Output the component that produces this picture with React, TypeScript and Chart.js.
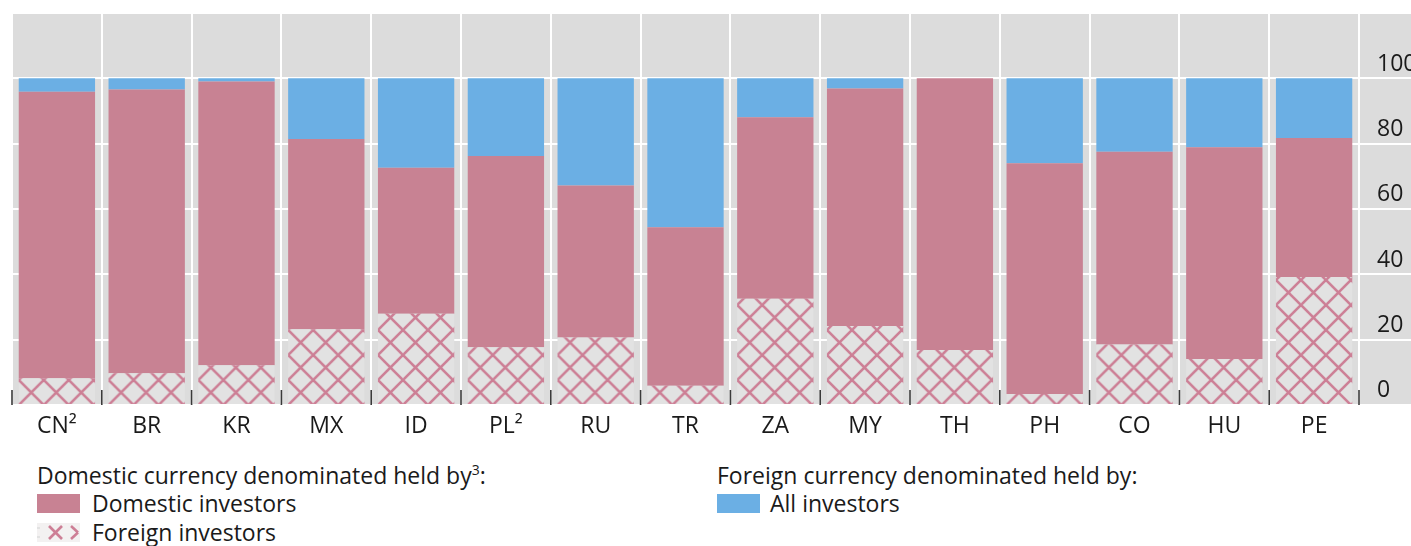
import React, { useEffect, useRef } from "react";
import { Chart, registerables } from "chart.js";

Chart.register(...registerables);

const categories = ["CN²", "BR", "KR", "MX", "ID", "PL²", "RU", "TR", "ZA", "MY", "TH", "PH", "CO", "HU", "PE"];
const foreignInvestors = [8.2, 9.7, 12.2, 23.2, 27.9, 17.7, 20.7, 5.9, 32.5, 24.2, 16.8, 3.4, 18.5, 14.1, 39.2];
const domesticInvestors = [87.7, 86.9, 86.8, 58.2, 44.7, 58.5, 46.5, 48.5, 55.6, 72.7, 83.2, 70.6, 59.0, 64.8, 42.5];
const foreignCurrencyAll = [4.1, 3.4, 1.0, 18.6, 27.4, 23.8, 32.8, 45.6, 11.9, 3.1, 0, 26.0, 22.5, 21.1, 18.3];
const yTicks = [0, 20, 40, 60, 80, 100, 120];

const PINK = "#C88293";
const HATCH = "#CD7F96";
const BLUE = "#6BAFE4";
const BG = "#DCDCDC";
const HATCH_BG = "#E2E2E2";
const FONT = "'Open Sans', 'Noto Sans', sans-serif";
const BAR_PCT = 0.85;

function makeTile(): HTMLCanvasElement {
  const s = 25;
  const c = document.createElement("canvas");
  c.width = s;
  c.height = s;
  const g = c.getContext("2d")!;
  g.fillStyle = HATCH_BG;
  g.fillRect(0, 0, s, s);
  g.strokeStyle = HATCH;
  g.lineWidth = 2.6;
  for (const o of [-s, 0, s]) {
    g.beginPath();
    g.moveTo(o, 0);
    g.lineTo(o + s, s);
    g.stroke();
    g.beginPath();
    g.moveTo(o + s, 0);
    g.lineTo(o, s);
    g.stroke();
  }
  return c;
}

const bgPlugin = {
  id: "bgPlugin",
  beforeDraw(chart: any) {
    const { ctx, chartArea: a, width } = chart;
    ctx.save();
    ctx.fillStyle = BG;
    ctx.fillRect(a.left, a.top, width - a.left, a.bottom - a.top);
    const ys = chart.scales.y;
    ctx.strokeStyle = "#ffffff";
    ctx.lineWidth = 2;
    ys.ticks.forEach((t: any) => {
      const y = Math.round(ys.getPixelForValue(t.value));
      ctx.beginPath();
      ctx.moveTo(a.right, y);
      ctx.lineTo(width, y);
      ctx.stroke();
    });
    ctx.restore();
  },
  afterDatasetsDraw(chart: any) {
    const { ctx, chartArea: a } = chart;
    const xs = chart.scales.x;
    const n = categories.length;
    const step = xs.width / n;
    ctx.save();
    ctx.strokeStyle = "#3a3a3a";
    ctx.lineWidth = 1.6;
    for (let i = 0; i <= n; i++) {
      const x = i < n ? xs.getPixelForValue(i) - step / 2 : xs.getPixelForValue(n - 1) + step / 2;
      ctx.beginPath();
      ctx.moveTo(x, a.bottom - 15);
      ctx.lineTo(x, a.bottom);
      ctx.stroke();
    }
    ctx.restore();
  },
};

export default function App() {
  const ref = useRef<HTMLCanvasElement>(null);

  useEffect(() => {
    document.body.style.margin = "0";
    const canvas = ref.current!;
    const ctx = canvas.getContext("2d")!;
    const tile = makeTile();

    const hatchColor = (c: any) => {
      const chart = c.chart;
      const xs = chart.scales && chart.scales.x;
      const pattern = ctx.createPattern(tile, "repeat")!;
      if (xs && chart.chartArea && typeof c.dataIndex === "number") {
        const step = xs.width / categories.length;
        const left = xs.getPixelForValue(c.dataIndex) - (step * BAR_PCT) / 2;
        pattern.setTransform(new DOMMatrix().translate(left, chart.chartArea.bottom));
      }
      return pattern;
    };

    const chart = new Chart(canvas, {
      type: "bar",
      data: {
        labels: categories,
        datasets: [
          { label: "Foreign investors", data: foreignInvestors, backgroundColor: hatchColor as any, borderWidth: 0 },
          { label: "Domestic investors", data: domesticInvestors, backgroundColor: PINK, borderWidth: 0 },
          { label: "All investors", data: foreignCurrencyAll, backgroundColor: BLUE, borderWidth: 0 },
        ],
      },
      options: {
        responsive: false,
        animation: false,
        devicePixelRatio: 1,
        layout: { padding: { left: 12, top: 13, right: 0, bottom: 0 } },
        datasets: { bar: { barPercentage: BAR_PCT, categoryPercentage: 1 } },
        plugins: { legend: { display: false }, tooltip: { enabled: false } },
        scales: {
          x: {
            stacked: true,
            offset: true,
            grid: { display: true, offset: true, color: "#ffffff", lineWidth: 2, drawTicks: false },
            border: { display: false },
            ticks: {
              color: "#1a1a1a",
              font: { family: FONT, size: 23 },
              padding: 8,
              maxRotation: 0,
              autoSkip: false,
            },
            afterFit: (s: any) => {
              s.height = 47;
              s.paddingLeft = 0;
              s.paddingRight = 0;
            },
          },
          y: {
            stacked: true,
            position: "right",
            min: 0,
            max: 120,
            afterBuildTicks: (s: any) => {
              s.ticks = yTicks.map((v) => ({ value: v }));
            },
            grid: { color: "#ffffff", lineWidth: 2, drawTicks: false },
            border: { display: false },
            ticks: {
              color: "#1a1a1a",
              font: { family: FONT, size: 23, lineHeight: 1.25 },
              padding: 18,
              callback: (v: any) => (Number(v) >= 120 ? "" : [String(v), ""]),
            },
            afterFit: (s: any) => {
              s.width = 52;
              s.paddingTop = 0;
              s.paddingBottom = 0;
            },
          },
        },
      },
      plugins: [bgPlugin],
    });
    return () => chart.destroy();
  }, []);

  const text: React.CSSProperties = {
    position: "absolute",
    fontFamily: FONT,
    fontSize: 23,
    lineHeight: "28px",
    color: "#1a1a1a",
    whiteSpace: "nowrap",
  };
  const swatch = (left: number, top: number, bg: string): React.CSSProperties => ({
    position: "absolute",
    left,
    top,
    width: 43,
    height: 19,
    background: bg,
  });

  return (
    <div style={{ position: "relative", width: 1411, height: 546, overflow: "hidden", background: "#fff" }}>
      <canvas ref={ref} width={1411} height={452} style={{ display: "block" }} />
      <div style={{ ...text, left: 37, top: 461 }}>
        Domestic currency denominated held by<sup style={{ fontSize: 14, lineHeight: 0 }}>3</sup>:
      </div>
      <div style={swatch(37, 494, PINK)} />
      <div style={{ ...text, left: 92, top: 489 }}>Domestic investors</div>
      <svg style={{ position: "absolute", left: 37, top: 523 }} width={43} height={19}>
        <rect x={0} y={0} width={43} height={19} fill="#F3F1F1" />
        <line x1={12} y1={3} x2={25} y2={16} stroke={HATCH} strokeWidth={2.6} />
        <line x1={25} y1={3} x2={12} y2={16} stroke={HATCH} strokeWidth={2.6} />
        <line x1={34} y1={3} x2={41} y2={9.5} stroke={HATCH} strokeWidth={2.6} />
        <line x1={41} y1={9.5} x2={34} y2={16} stroke={HATCH} strokeWidth={2.6} />
        <line x1={0} y1={5} x2={3} y2={5} stroke="#ddd" strokeWidth={1.5} />
        <line x1={0} y1={14} x2={3} y2={14} stroke="#ddd" strokeWidth={1.5} />
      </svg>
      <div style={{ ...text, left: 92, top: 518 }}>Foreign investors</div>
      <div style={{ ...text, left: 717, top: 461 }}>Foreign currency denominated held by:</div>
      <div style={swatch(717, 494, BLUE)} />
      <div style={{ ...text, left: 770, top: 489 }}>All investors</div>
    </div>
  );
}
